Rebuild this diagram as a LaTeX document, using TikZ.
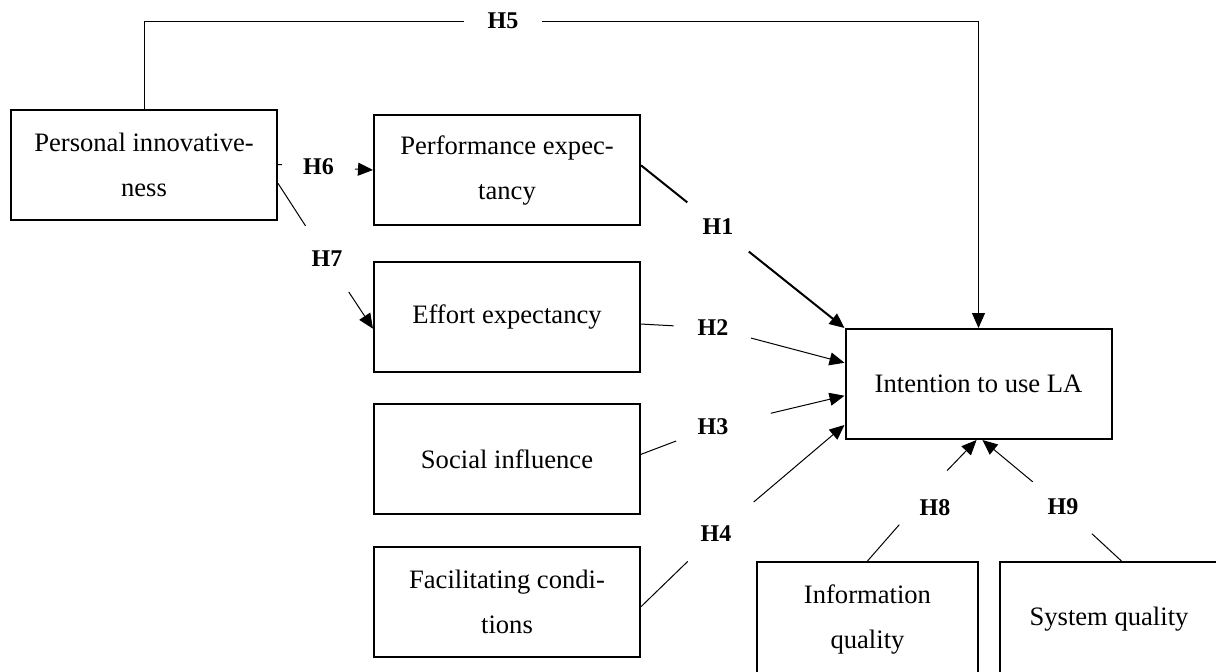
\documentclass[tikz,border=0pt]{standalone}
\usepackage{fontspec}
\setmainfont{Liberation Serif}
\usetikzlibrary{positioning,arrows.meta}

\begin{document}
\begin{tikzpicture}[
    x=0.5pt, y=-0.5pt,
    box/.style={draw, line width=1pt, minimum width=133pt, minimum height=55pt, align=center, inner sep=0pt, font=\fontsize{13.3}{22.5}\selectfont},
    hyp/.style={circle, minimum size=39pt, inner sep=0pt, font=\fontsize{12}{14}\selectfont\bfseries},
    link/.style={line width=0.5pt},
    arrow/.style={link, -{Triangle[length=7.5pt,width=6.5pt]}}
]
  \useasboundingbox (0,0) rectangle (1216,671);

  % Constructs
  \node[box] (pi) at (144,164.5) {Personal innovative-\\ness};
  \node[box] (pe) at (507,170) {Performance expec-\\tancy};
  \node[box, below=17.5pt of pe] (ee) {Effort expectancy};
  \node[box, below=15pt of ee] (si) {Social influence};
  \node[box, below=15.5pt of si] (fc) {Facilitating condi-\\tions};
  \node[box] (iu) at (978.5,384) {Intention to use LA};
  \node[box, minimum width=110.5pt, minimum height=57.5pt] (iq) at (867.5,619.5) {Information\\quality};
  \node[box, minimum width=109pt, minimum height=57.5pt] (sq) at (1109,619.5) {System quality};

  % Hypothesis labels
  \node[hyp] (h1) at (718,227) {H1};
  \node[hyp] (h2) at (713,328) {H2};
  \node[hyp] (h3) at (713,427) {H3};
  \node[hyp] (h4) at (716,534) {H4};
  \node[hyp] (h5) at (503,21) {H5};
  \node[hyp, minimum size=36pt] (h6) at (318.5,167) {H6};
  \node[hyp] (h7) at (327,259) {H7};
  \node[hyp] (h8) at (935,508) {H8};
  \node[hyp] (h9) at (1063,507) {H9};

  % Paths
  \draw[link] (pi.north) |- (h5);
  \draw[arrow] (h5) -| (iu.north);
  \draw[link] (pi.east) -- (h6);
  \draw[arrow] (h6) -- (pe.west);
  \draw[link] (pi.352) -- (h7);
  \draw[arrow] (h7) -- (ee.185);
  \draw[link, line width=1pt] (pe.2) -- (h1);
  \draw[arrow, line width=1pt] (h1) -- (iu.north west);
  \draw[link] (ee.357) -- (h2);
  \draw[arrow] (h2) -- (iu.171);
  \draw[link] (si.2) -- (h3);
  \draw[arrow, shorten <=10pt] (h3) -- (iu.185);
  \draw[link] (fc.358) -- (h4);
  \draw[arrow, shorten <=5pt] (h4) -- (iu.197);
  \draw[link] (iq.north) -- (h8.205);
  \draw[arrow] (h8.72) -- (iu.268);
  \draw[link] (sq.78) -- (h9);
  \draw[arrow] (h9) -- (iu.274);

\end{tikzpicture}
\end{document}
